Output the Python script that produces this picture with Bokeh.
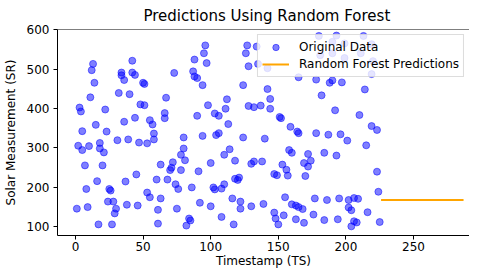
from bokeh.plotting import figure
from bokeh.models import Range1d, FixedTicker, Legend, LegendItem, Span
from bokeh.embed import file_html
from bokeh.resources import INLINE

ts = [3, 4, 5, 13, 12, 14, 11, 15, 22, 23, 32, 34, 34, 36, 42, 40, 42, 44, 36, 44, 48, 51, 50, 51, 55, 57, 58,
      66, 66, 67, 73, 87, 88, 90, 96, 95, 88, 97, 94, 98, 90, 103, 106, 112, 111, 113,
      124, 127, 134, 126, 128, 135, 142, 128, 132, 137, 144, 144, 151, 152, 159, 164, 165, 178, 188, 190, 197,
      214, 182, 192, 210, 219, 223, 180, 193, 213, 190, 199, 219, 181, 190, 211, 220, 219, 142, 199,
      2, 5, 10, 18, 18, 21, 31, 39, 47, 53, 58, 7, 20, 16, 8, 25, 26, 37, 45, 60, 63, 53, 55, 63, 1, 9, 24, 28,
      30, 29, 38, 46, 61, 17, 27, 61,
      80, 94, 104, 106, 124, 140, 80, 78, 81, 72, 71, 70, 78, 68, 74, 76, 86, 91, 100, 114, 110, 118, 118, 121,
      120, 102, 103, 108, 110, 130, 132, 138, 116, 122, 122, 130, 139, 92, 100, 75, 84, 85, 82, 108, 117,
      165, 178, 187, 196, 201, 215, 158, 160, 172, 174, 172, 170, 169, 184, 193, 153, 156, 157, 147, 149,
      223, 224, 155, 160, 163, 165, 168, 177, 186, 195, 202, 206, 209, 202, 204, 216, 147, 148, 150, 154,
      163, 169, 176, 184, 194, 206, 208, 204, 225]
sr = [402, 392, 342, 513, 497, 465, 428, 358, 397, 341, 439, 491, 484, 472, 521, 436, 491, 485, 366, 376, 410, 408, 465, 462, 370, 359, 336,
      388, 375, 427, 490, 494, 481, 477, 560, 540, 524, 515, 459, 408, 381, 387, 381, 423, 399, 360,
      459, 560, 557, 540, 507, 513, 449, 406, 403, 407, 424, 399, 378, 375, 353, 341, 479, 473, 465, 471, 466,
      448, 433, 395, 383, 355, 345, 584, 585, 584, 569, 565, 563, 535, 540, 540, 520, 487, 502, 528,
      305, 294, 304, 312, 298, 288, 319, 321, 313, 311, 321, 255, 255, 215, 195, 195, 191, 214, 232, 219, 257, 186, 174, 171, 145, 149, 163, 163,
      145, 133, 155, 153, 142, 105, 105, 107,
      326, 330, 332, 337, 326, 323, 298, 282, 268, 263, 249, 243, 243, 219, 207, 195, 199, 240, 261, 296, 282, 267, 221, 224,
      218, 199, 194, 196, 207, 259, 265, 265, 171, 163, 145, 151, 157, 160, 151, 145, 120, 115, 102, 124, 105,
      337, 337, 333, 334, 318, 306, 294, 287, 284, 267, 252, 228, 261, 287, 280, 257, 244, 229, 233, 230,
      239, 188, 174, 156, 153, 149, 144, 171, 167, 171, 167, 172, 170, 148, 141, 136, 135, 120, 105, 128,
      118, 109, 130, 116, 118, 113, 110, 100, 111]

# Random forest predictions
pred_ts = [226, 287]
pred_sr = [167, 167]

x_ticks = [0, 50, 100, 150, 200, 250]
y_ticks = [100, 200, 300, 400, 500, 600]

FONT = "DejaVu Sans"

p = figure(frame_width=412, frame_height=206, output_backend="svg", toolbar_location=None,
           x_range=Range1d(-13.3, 291.4), y_range=Range1d(76.8, 600.4),
           min_border_left=51, min_border_right=0, min_border_top=0, min_border_bottom=0)

p.title.text = "Predictions Using Random Forest"
p.title.text_font = FONT
p.title.text_font_size = "15px"
p.title.text_font_style = "normal"
p.title.text_color = "black"
p.title.align = "left"
p.title.offset = 86
p.title.standoff = 9

p.outline_line_color = None
p.xgrid.visible = False
p.ygrid.visible = False

r1 = p.scatter(ts, sr, size=7, fill_color="blue", fill_alpha=0.5,
               line_color="blue", line_alpha=0.5, line_width=1)
r2 = p.line(pred_ts, pred_sr, line_color="orange", line_width=2)

p.add_layout(Span(location=600.4, dimension="width", line_color="black", line_width=1))

for ax, ticks in ((p.xaxis, x_ticks), (p.yaxis, y_ticks)):
    ax.ticker = FixedTicker(ticks=ticks)
    ax.minor_tick_line_color = None
    ax.major_tick_in = 0
    ax.major_tick_out = 4
    ax.axis_line_color = "black"
    ax.major_tick_line_color = "black"
    ax.major_label_text_font = FONT
    ax.major_label_text_font_size = "12px"
    ax.major_label_text_color = "black"
    ax.axis_label_text_font = FONT
    ax.axis_label_text_font_size = "12px"
    ax.axis_label_text_font_style = "normal"
    ax.axis_label_text_color = "black"

p.xaxis.axis_label = "Timestamp (TS)"
p.yaxis.axis_label = "Solar Measurement (SR)"
p.xaxis.major_label_standoff = 2
p.xaxis.axis_label_standoff = 0
p.yaxis.major_label_standoff = 4
p.yaxis.axis_label_standoff = 6

legend = Legend(items=[LegendItem(label="Original Data", renderers=[r1]),
                       LegendItem(label="Random Forest Predictions", renderers=[r2])],
                location="top_right")
legend.label_text_font = FONT
legend.label_text_font_size = "12px"
legend.label_text_color = "black"
legend.border_line_color = "#bbbbbb"
legend.background_fill_alpha = 0.8
legend.glyph_width = 27
legend.glyph_height = 16
legend.label_standoff = 10
legend.label_height = 16
legend.padding = 4
legend.spacing = 1
legend.margin = 5
p.add_layout(legend)

open("out.html", "w").write(file_html(p, INLINE))
